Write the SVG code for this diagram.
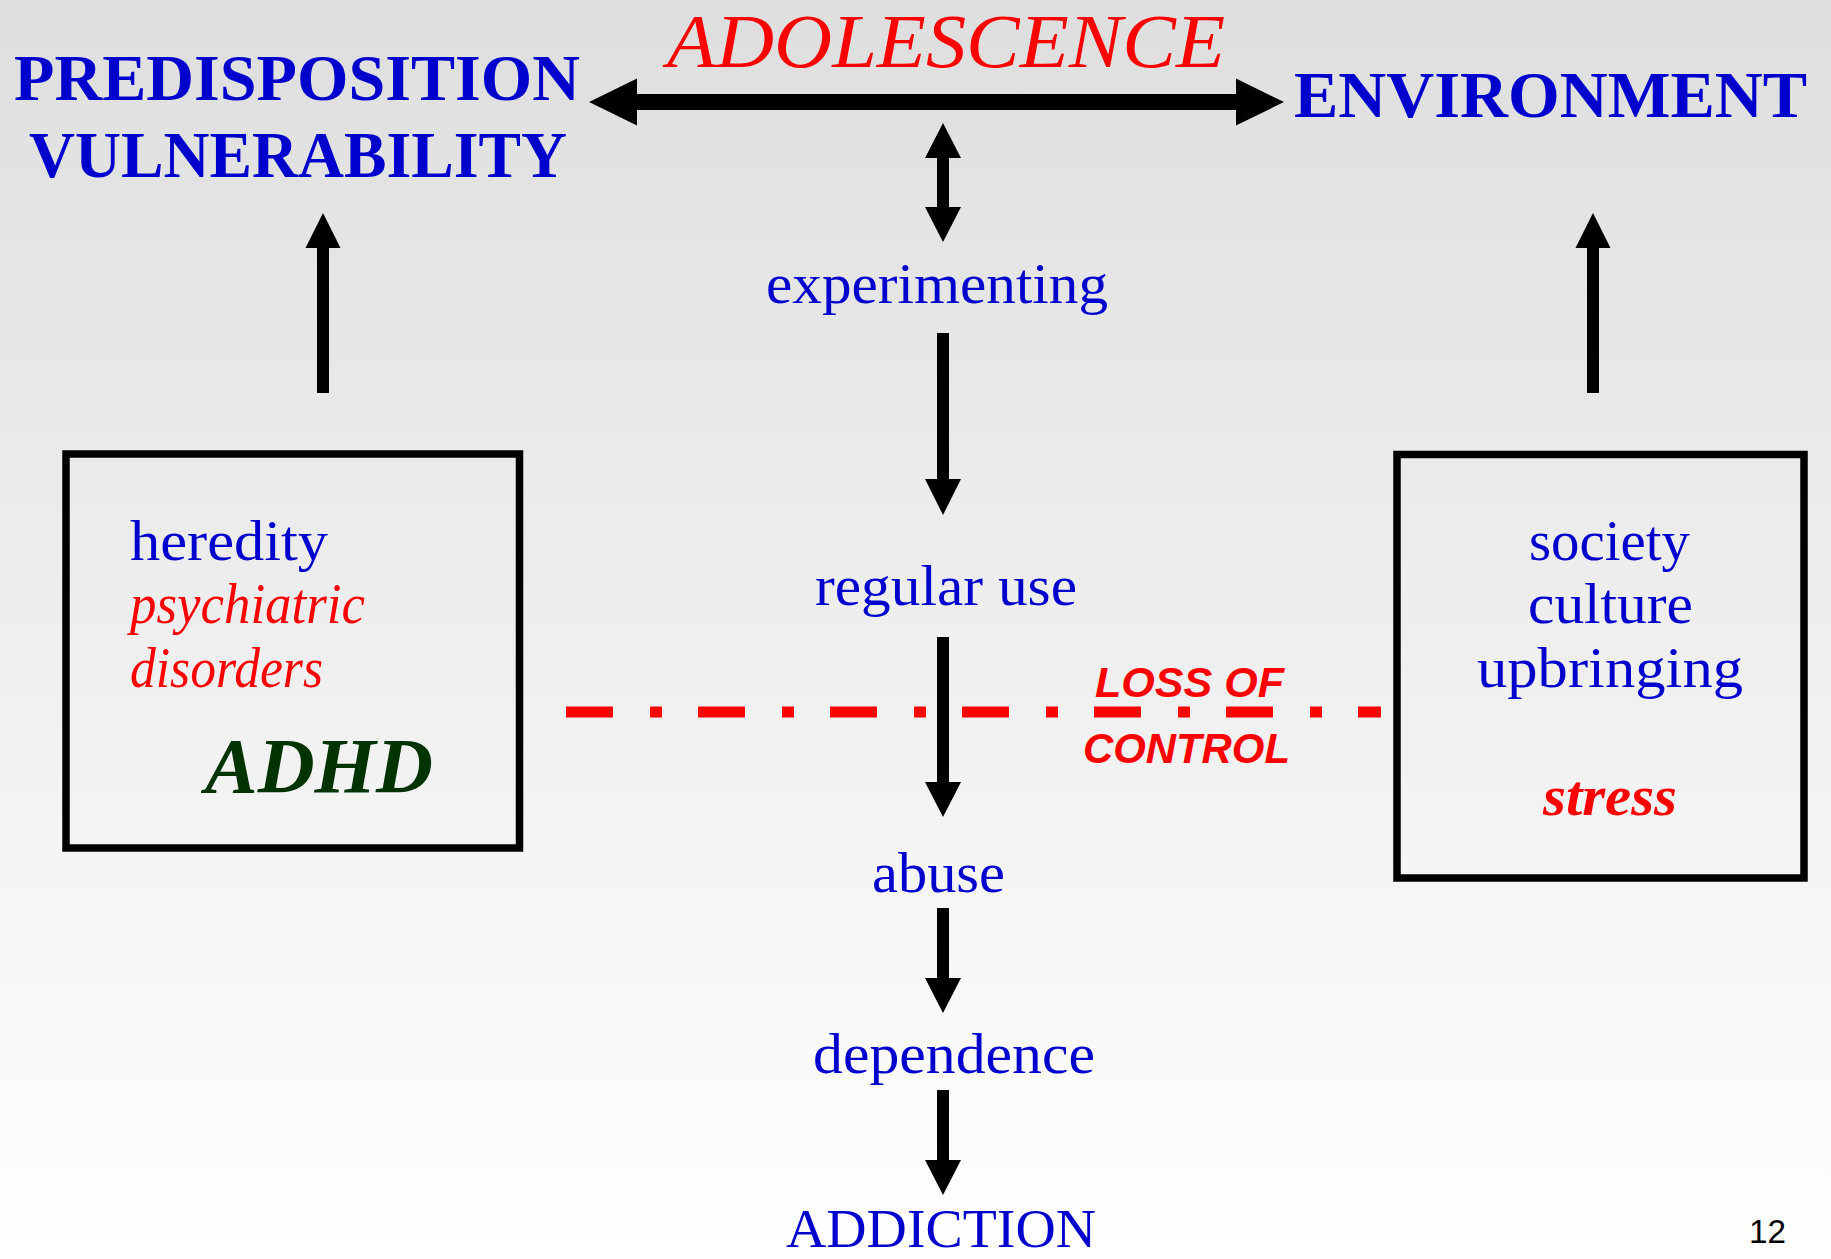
<svg xmlns="http://www.w3.org/2000/svg" width="1831" height="1259" viewBox="0 0 1831 1259">
<defs>
<linearGradient id="bg" x1="0" y1="0" x2="0" y2="1">
<stop offset="0" stop-color="#dedede"/>
<stop offset="1" stop-color="#ffffff"/>
</linearGradient>
</defs>
<style>
.serif{font-family:"Liberation Serif","Times New Roman",serif}
.blue{fill:#0000cc}
.red{fill:#ff0000}
.lbl{font-size:58px}
.head{font-size:66px;font-weight:bold}
.box{fill:none;stroke:#000;stroke-width:7.5}
.arr{fill:#000}
.loc{font-family:"Liberation Sans",Arial,sans-serif;font-size:42px;font-weight:bold;font-style:italic;fill:#ff0000}
</style>
<rect x="0" y="0" width="1831" height="1259" fill="url(#bg)"/>

<g id="predisposition">
<text class="serif head blue" x="14" y="100" textLength="566" lengthAdjust="spacingAndGlyphs">PREDISPOSITION</text>
<text class="serif head blue" x="29" y="177" textLength="538" lengthAdjust="spacingAndGlyphs">VULNERABILITY</text>
</g>
<g id="adolescence">
<text class="serif red" x="667" y="67" font-size="76" font-style="italic" textLength="558" lengthAdjust="spacingAndGlyphs">ADOLESCENCE</text>
</g>
<g id="environment">
<text class="serif head blue" x="1294" y="117" textLength="513" lengthAdjust="spacingAndGlyphs">ENVIRONMENT</text>
</g>

<g id="left-box">
<rect class="box" x="66" y="454" width="453.5" height="394"/>
<text class="serif lbl blue" x="130" y="560" textLength="198" lengthAdjust="spacingAndGlyphs">heredity</text>
<text class="serif lbl red" x="130" y="623" font-style="italic" textLength="235" lengthAdjust="spacingAndGlyphs">psychiatric</text>
<text class="serif lbl red" x="130" y="687" font-style="italic" textLength="193" lengthAdjust="spacingAndGlyphs">disorders</text>
<text class="serif" x="205" y="792" font-size="78" font-weight="bold" font-style="italic" fill="#003300" textLength="228" lengthAdjust="spacingAndGlyphs">ADHD</text>
</g>

<g id="right-box">
<rect class="box" x="1397" y="454.5" width="407" height="423.5"/>
<text class="serif lbl blue" x="1529" y="560" textLength="161" lengthAdjust="spacingAndGlyphs">society</text>
<text class="serif lbl blue" x="1528" y="623" textLength="165" lengthAdjust="spacingAndGlyphs">culture</text>
<text class="serif lbl blue" x="1477" y="687" textLength="266" lengthAdjust="spacingAndGlyphs">upbringing</text>
<text class="serif lbl red" x="1543" y="815" font-weight="bold" font-style="italic" textLength="134" lengthAdjust="spacingAndGlyphs">stress</text>
</g>

<g id="experimenting"><text class="serif lbl blue" x="766" y="303" textLength="342" lengthAdjust="spacingAndGlyphs">experimenting</text></g>
<g id="regular-use"><text class="serif lbl blue" x="815" y="605" textLength="262" lengthAdjust="spacingAndGlyphs">regular use</text></g>
<g id="abuse"><text class="serif lbl blue" x="872" y="892" textLength="133" lengthAdjust="spacingAndGlyphs">abuse</text></g>
<g id="dependence"><text class="serif lbl blue" x="813" y="1073" textLength="282" lengthAdjust="spacingAndGlyphs">dependence</text></g>
<g id="addiction"><text class="serif blue" x="786" y="1247" font-size="54" textLength="310" lengthAdjust="spacingAndGlyphs">ADDICTION</text></g>

<g id="loss-of-control">
<line x1="566" y1="712" x2="1381" y2="712" stroke="#ff0000" stroke-width="11" stroke-dasharray="47 37 12 36"/>
<text class="loc" x="1095" y="697" textLength="189" lengthAdjust="spacingAndGlyphs">LOSS OF</text>
<text class="loc" x="1083" y="763" textLength="207" lengthAdjust="spacingAndGlyphs">CONTROL</text>
</g>

<g id="connectors">
<polygon class="arr" points="589,102 637,78.5 637,94 1236,94 1236,78.5 1284,102 1236,125.5 1236,110 637,110 637,125.5"/>
<polygon class="arr" points="943,123 961,158 949,158 949,207 961,207 943,242 925,207 937,207 937,158 925,158"/>
<polygon class="arr" points="323,213 340.5,248 329,248 329,393 317,393 317,248 305.5,248"/>
<polygon class="arr" points="1593,213 1610.5,248 1599,248 1599,393 1587,393 1587,248 1575.5,248"/>
<polygon class="arr" points="937,333 949,333 949,479 961,479 943,515 925,479 937,479"/>
<polygon class="arr" points="937,637 949,637 949,782 961,782 943,817 925,782 937,782"/>
<polygon class="arr" points="937,908 949,908 949,978 961,978 943,1013 925,978 937,978"/>
<polygon class="arr" points="937,1090 949,1090 949,1160 961,1160 943,1195 925,1160 937,1160"/>
</g>

<g id="page-number">
<text x="1749" y="1243" font-family="Liberation Sans, Arial, sans-serif" font-size="33" fill="#000" textLength="37" lengthAdjust="spacingAndGlyphs">12</text>
</g>
</svg>
